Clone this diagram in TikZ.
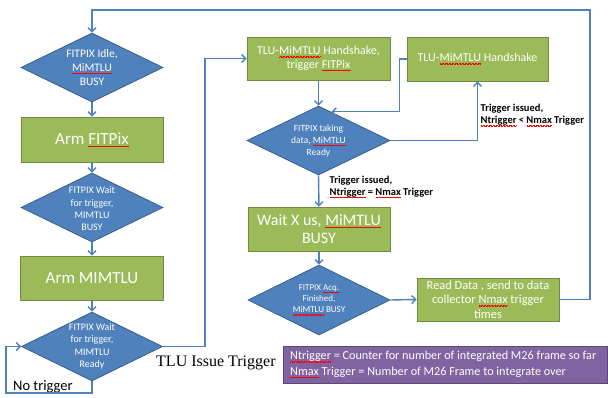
\documentclass[tikz,border=0pt]{standalone}
\usepackage{fontspec}
\setmainfont{Carlito}
\newfontfamily\timesfont{Liberation Serif}
\usetikzlibrary{shapes.geometric,arrows.meta}
\definecolor{dblue}{HTML}{4F81BD}
\definecolor{dblueedge}{HTML}{385D8A}
\definecolor{bgreen}{HTML}{9BBB59}
\definecolor{bgreenedge}{HTML}{71893F}
\definecolor{lpurple}{HTML}{8064A2}
\definecolor{lpurpleedge}{HTML}{5C4776}
% red wavy spell-check underline built from a repeated step segment
\newcommand\wavebit{\hbox{\rule{0.7pt}{0.45pt}\rule[0.45pt]{0.7pt}{0.45pt}}}
\newcommand\sq[1]{\setbox0\hbox{#1}\rlap{\raisebox{-2.4pt}{\hbox to \wd0{\color{red}\xleaders\wavebit\hfill}}}\box0\relax}
\newcommand\fsz[2]{\fontsize{#1}{#2}\selectfont}
\begin{document}
\begin{tikzpicture}[x=1pt,y=-1pt,
  dia/.style={diamond, draw=dblueedge, fill=dblue, line width=0.8pt, inner sep=0pt},
  dtext/.style={text=white, align=center, inner sep=0pt},
  box/.style={draw=bgreenedge, fill=bgreen, line width=0.8pt, text=white, align=center, inner sep=0pt},
  conn/.style={draw=dblue, line width=1.4pt},
  arr/.style={conn, -{Straight Barb[length=4pt,width=8pt]}},
  lbl/.style={align=left, inner sep=0pt, font=\bfseries\fsz{10.5}{12}},
]
\useasboundingbox (0,0) rectangle (608,398);

% left column
\node[dia, minimum width=142pt, minimum height=69pt] (d1) at (92,67.5) {};
\node[dtext, font=\fsz{11.5}{14}] (t1) at (d1) {FITPIX Idle,\\ \sq{MiMTLU}\\ BUSY};
\node[box, minimum width=142pt, minimum height=45pt, font=\fsz{17}{20}] (b1) at (92,139.5) {Arm \sq{FITPix}};
\node[dia, minimum width=142pt, minimum height=69pt] (d2) at (92,207.5) {};
\node[dtext, font=\fsz{10}{12.3}] (t2) at (92,209) {FITPIX Wait\\ for trigger,\\ MIMTLU\\ BUSY};
\node[box, minimum width=143pt, minimum height=44pt, font=\fsz{17}{20}] (b2) at (92,278) {Arm MIMTLU};
\node[dia, minimum width=141pt, minimum height=69pt] (d3) at (92,346.5) {};
\node[dtext, font=\fsz{10}{12.3}] (t3) at (92,346.5) {FITPIX Wait\\ for trigger,\\ MIMTLU\\ Ready};

% middle and right
\node[box, minimum width=143pt, minimum height=43pt, font=\fsz{12}{13.5}] (h1) at (318.5,58.5) {TLU-\sq{MiMTLU} Handshake,\\ trigger \sq{FITPix}};
\node[box, minimum width=141pt, minimum height=44pt, font=\fsz{12}{13.5}] (h2) at (477.5,59) {TLU-\sq{MiMTLU} Handshake};
\node[dia, minimum width=143pt, minimum height=69pt] (d4) at (318.5,140.5) {};
\node[dtext, font=\fsz{9.5}{12}] (t4) at (d4) {FITPIX taking\\ data, \sq{MiMTLU}\\ Ready};
\node[box, minimum width=142pt, minimum height=44pt, font=\fsz{16}{18.5}] (w) at (319,229) {Wait X us, \sq{MiMTLU}\\ BUSY};
\node[dia, minimum width=142pt, minimum height=70pt] (d5) at (319,300) {};
\node[dtext, font=\fsz{9}{11.2}] (t5) at (d5) {FITPIX \sq{Acq.}\\ Finished,\\ \sq{MiMTLU} BUSY};
\node[box, minimum width=142pt, minimum height=43pt, font=\fsz{12.4}{14.3}] (r) at (488,299.5) {Read Data , send to data\\ collector \sq{Nmax} trigger\\ times};

% legend
\node[draw=lpurpleedge, fill=lpurple, line width=0.8pt, minimum width=324pt, minimum height=37pt, inner sep=0pt] (leg) at (445,364.5) {};
\node[text=white, align=left, anchor=west, inner sep=0pt, font=\fsz{12.2}{15.5}] (legt) at (290,364.5)
  {\sq{Ntrigger} = Counter for number of integrated M26 frame so far\\ \sq{Nmax} Trigger = Number of M26 Frame to integrate over};

% labels
\node[lbl, anchor=north west] (l1) at (480.5,104) {Trigger issued,\\ \sq{Ntrigger} < \sq{Nmax} Trigger};
\node[lbl, anchor=north west] (l2) at (329.5,175.5) {Trigger issued,\\ \sq{Ntrigger} = \sq{Nmax} Trigger};
\node[anchor=west, inner sep=0pt, font=\fsz{14.5}{16}] (ntl) at (13,387) {No trigger};
\node[anchor=west, inner sep=0pt, font=\timesfont\fsz{16}{18}] (tlu) at (156,363) {TLU Issue Trigger};

% connector bends
\coordinate (topR) at (590,10);
\coordinate (topL) at (92,10);
\coordinate (nt1) at (92,393);
\coordinate (nt2) at (6,393);
\coordinate (jx) at (205,200);

% connectors
\draw[arr] (d1.south) -- (b1.north);
\draw[arr] (b1.south) -- (d2.north);
\draw[arr] (d2.south) -- (b2.north);
\draw[arr] (b2.south) -- (d3.north);
\draw[arr] (d3.south) -- (nt1) -- (nt2) |- (d3.west);
\draw[arr] (d3.east) -| (jx) |- (h1.west);
\draw[arr] (h1.south) -- (d4.north);
\draw[arr] (h2.west) -- ++(-7,0) |- (d4.66);
\draw[arr] (d4.east) -| (h2.south);
\draw[arr] (d4.south) -- (w.north);
\draw[arr] (w.south) -- (d5.north);
\draw[arr] (d5.east) -- (r.west);
\draw[arr] (r.east) -| (topR) -- (topL) -- (d1.north);
\end{tikzpicture}
\end{document}
